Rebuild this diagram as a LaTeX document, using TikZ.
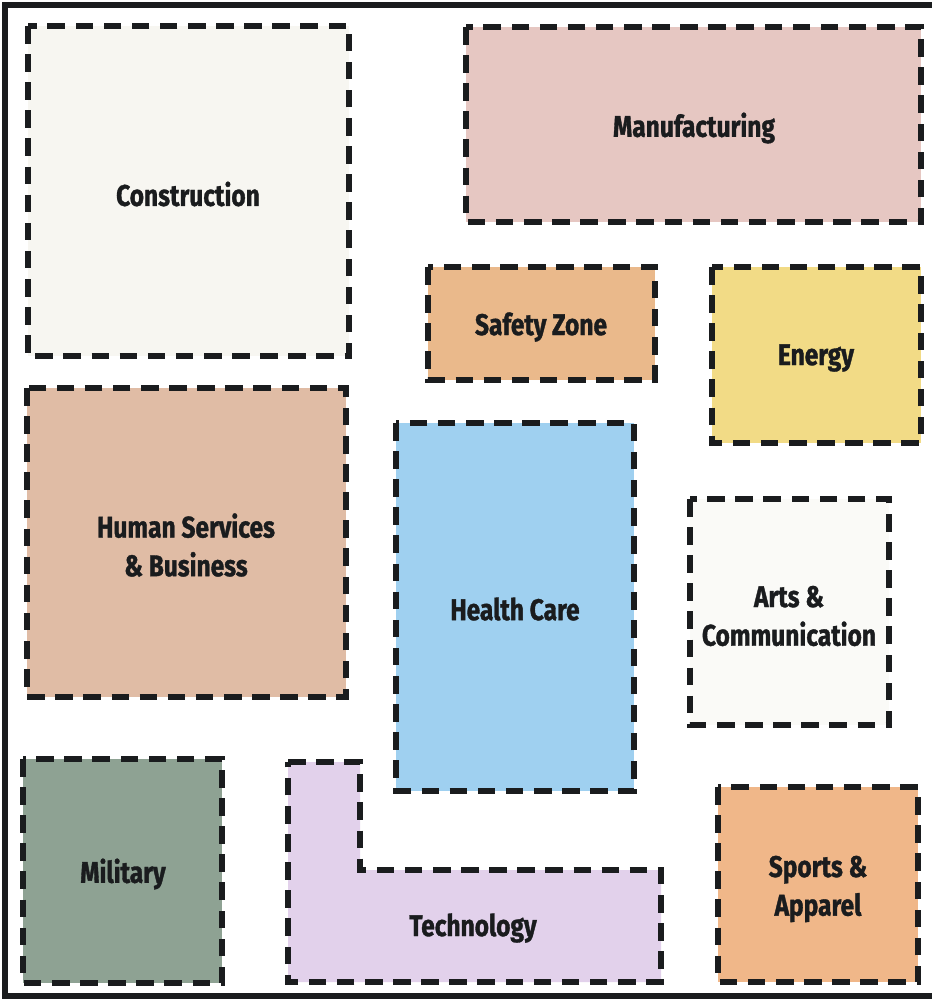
\documentclass[tikz,border=0pt]{standalone}
\usepackage{fontspec}
\setmainfont{Fira Sans}[FakeStretch=0.82,BoldFeatures={FakeBold=1.2}]
\definecolor{ink}{HTML}{1A1C1E}
\definecolor{constr}{HTML}{F7F6F1}
\definecolor{manuf}{HTML}{E6C7C2}
\definecolor{safety}{HTML}{EAB98B}
\definecolor{energy}{HTML}{F2DB86}
\definecolor{human}{HTML}{E0BCA5}
\definecolor{health}{HTML}{9FD0F0}
\definecolor{arts}{HTML}{FAFAF7}
\definecolor{military}{HTML}{8EA293}
\definecolor{tech}{HTML}{E2D1EB}
\definecolor{sports}{HTML}{F0B789}

\begin{document}
\begin{tikzpicture}[x=0.02cm,y=-0.02cm,
  zone/.style={draw=ink,line width=3.6pt,dash pattern=on 10pt off 6pt},
  lbl/.style={font=\fontsize{17}{22}\selectfont\bfseries,text=ink,align=center}]
\useasboundingbox (0,0) rectangle (932,1002);
\draw[line width=3pt,ink] (932,5) -- (5,5) -- (5,996) -- (932,996);

\draw[zone,fill=constr] (28,26) rectangle (349,356);
\node[lbl] (construction) at (188,194) {Construction};
\draw[zone,fill=manuf] (466,27) rectangle (921,222);
\node[lbl] (manufacturing) at (694,128) {Manufacturing};
\draw[zone,fill=safety] (428,267) rectangle (655,380);
\node[lbl] (safety) at (541,327) {Safety Zone};
\draw[zone,fill=energy] (712,267) rectangle (921,443);
\node[lbl] (energy) at (816,358) {Energy};
\draw[zone,fill=human] (27,388) rectangle (346,697);
\node[lbl] (human) at (186,545) {Human Services\\\& Business};
\draw[zone,fill=health] (396,423) rectangle (634,791);
\node[lbl] (health) at (515,609) {Health Care};
\draw[zone,fill=arts] (690,499) rectangle (889,725);
\node[lbl] (arts) at (789,616) {Arts \&\\Communication};
\draw[zone,fill=military] (23,759) rectangle (222,983);
\node[lbl] (military) at (123,874) {Military};
\draw[zone,fill=tech] (288,762) -- (360,762) -- (360,870) -- (661,870)
  -- (661,982) -- (288,982) -- cycle;
\node[lbl] (technology) at (473,928) {Technology};
\draw[zone,fill=sports] (718,787) rectangle (918,982);
\node[lbl] (sports) at (818,889) {Sports \&\\Apparel};
\end{tikzpicture}
\end{document}
